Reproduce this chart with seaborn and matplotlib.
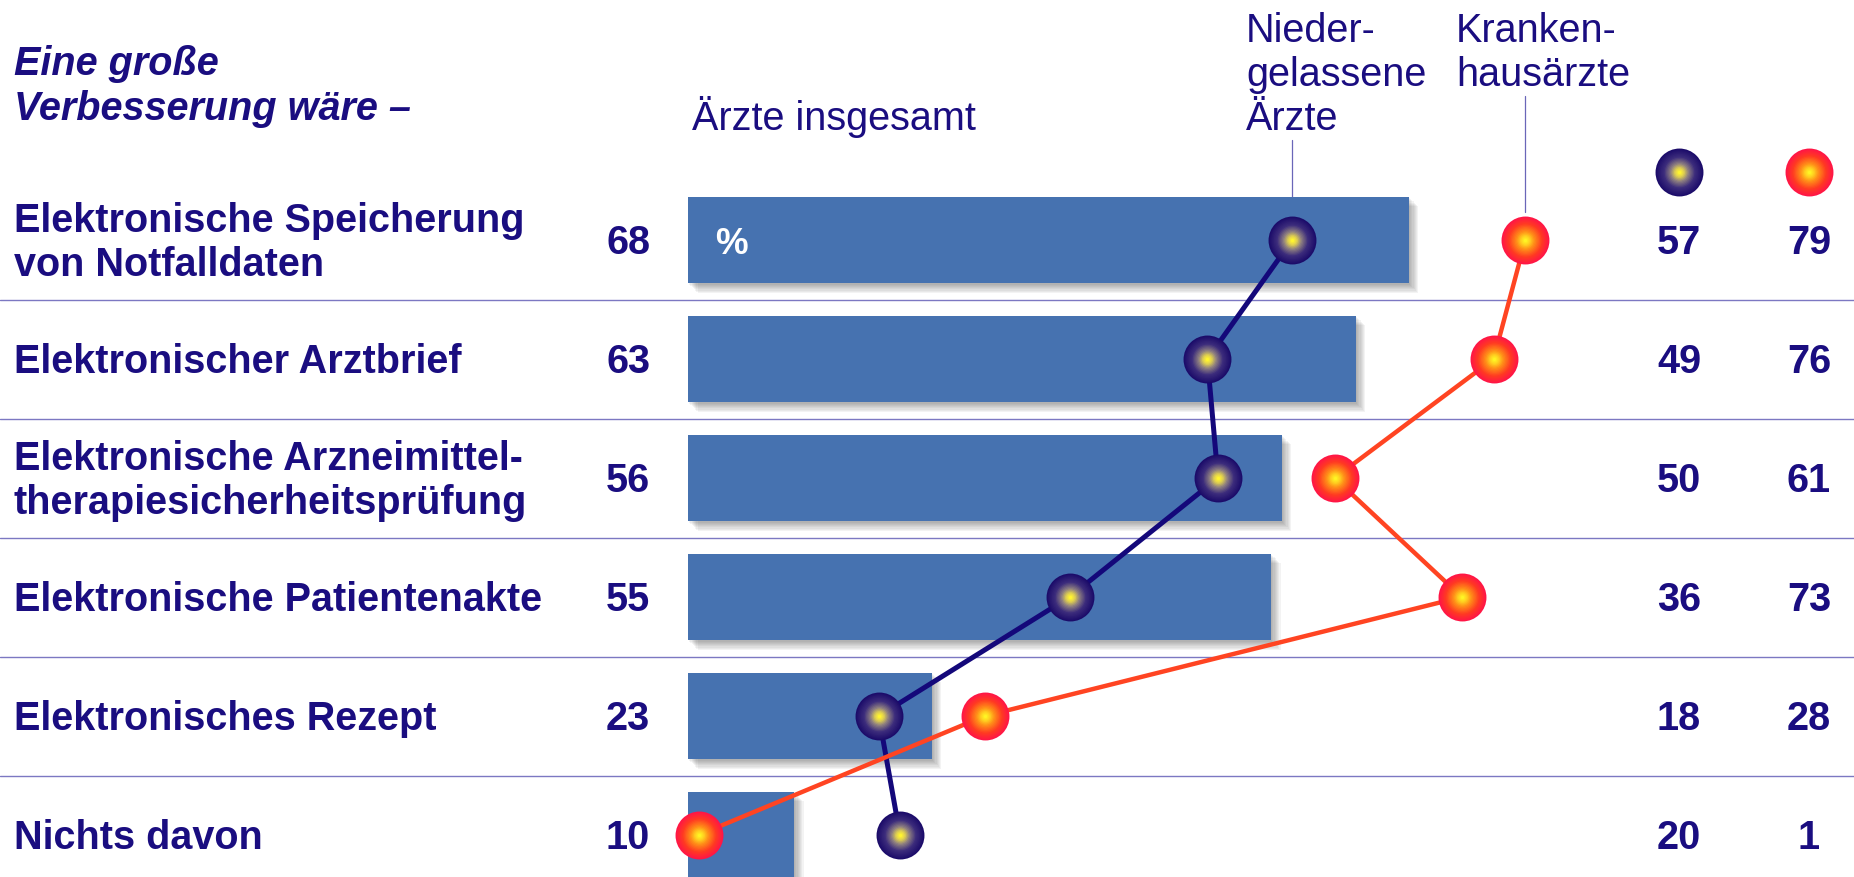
import numpy as np
import pandas as pd
import matplotlib
matplotlib.use("Agg")
import matplotlib.pyplot as plt
import seaborn as sns
from matplotlib.colors import LinearSegmentedColormap

# ---------------- data ----------------
categories = [
    "Elektronische Speicherung\nvon Notfalldaten",
    "Elektronischer Arztbrief",
    "Elektronische Arzneimittel-\ntherapiesicherheitsprüfung",
    "Elektronische Patientenakte",
    "Elektronisches Rezept",
    "Nichts davon",
]
aerzte_insgesamt = [68, 63, 56, 55, 23, 10]
niedergelassene = [57, 49, 50, 36, 18, 20]
krankenhaus = [79, 76, 61, 73, 28, 1]

title_lines = ["Eine große", "Verbesserung wäre –"]
label_total = "Ärzte insgesamt"
label_nieder = ["Nieder-", "gelassene", "Ärzte"]
label_kranken = ["Kranken-", "hausärzte"]

# ---------------- style ----------------
sns.set_theme(style="white")
plt.rcParams["font.family"] = ["Liberation Sans", "DejaVu Sans"]

NAVY_TXT = "#1a0d80"
BAR = "#4672b0"
NAVY_LINE = "#14087a"
RED_LINE = "#ff4422"
SEP = "#7c78c2"

W, H = 1854, 877
fig = plt.figure(figsize=(W / 100, H / 100), dpi=100)
ax = fig.add_axes([0, 0, 1, 1])

# pixel geometry of the reference
X0, PXU = 688, 10.6       # x pixel of 0 % and pixels per %
Y0, ROW = 240, 119        # y pixel of first row and row pitch

def fx(px):  # figure fraction from pixel
    return px / W

def fy(py):
    return 1 - py / H

df = pd.DataFrame({"cat": categories, "total": aerzte_insgesamt,
                   "nieder": niedergelassene, "kranken": krankenhaus})
ypos = np.arange(len(categories))

# separators
for i in range(len(categories) - 1):
    ax.axhline(i + 0.5, color=SEP, lw=1.0, zorder=1)

# bar shadows
for k in range(1, 9):
    ox = k * 1.2 / PXU
    oy = k * 1.2 / ROW
    ax.barh(ypos + oy, df["total"], left=ox, height=0.73, color="#404040",
            alpha=0.06, linewidth=0, zorder=2)

# bars
sns.barplot(data=df, y="cat", x="total", orient="h", color=BAR, width=0.73,
            saturation=1, ax=ax, zorder=3, linewidth=0)
ax.set_xlim(-X0 / PXU, (W - X0) / PXU)
ax.set_ylim((H - Y0) / ROW, -Y0 / ROW)

# lines
ax.plot(df["nieder"], ypos, color=NAVY_LINE, lw=3.6, zorder=4, solid_capstyle="round")
ax.plot(df["kranken"], ypos, color=RED_LINE, lw=3.2, zorder=4, solid_capstyle="round")

navy_cmap = LinearSegmentedColormap.from_list(
    "navyball", [(0, "#1c0c6a"), (0.35, "#3c2c7c"), (0.65, "#8f8080"), (0.85, "#e0d050"), (1, "#fff530")])
red_cmap = LinearSegmentedColormap.from_list(
    "redball", [(0, "#ff1646"), (0.3, "#ff3a22"), (0.65, "#ff9018"), (0.85, "#ffd020"), (1, "#fff424")])

def balls(ax, xs, ys, cmap, size=1190, z=5, transform=None):
    n = 18
    kw = {} if transform is None else {"transform": transform}
    for k in range(n):
        f = k / (n - 1)
        r = 1 - 0.93 * f
        ax.scatter(xs, ys, s=size * r * r, color=cmap(f), linewidths=0,
                   zorder=z + k * 0.01, **kw)

balls(ax, df["nieder"], ypos, navy_cmap)
balls(ax, df["kranken"], ypos, red_cmap)

# legend balls (top right)
balls(ax, [fx(1679)], [fy(172)], navy_cmap, transform=fig.transFigure, z=6)
balls(ax, [fx(1809)], [fy(172)], red_cmap, transform=fig.transFigure, z=6)

# leader lines
ax.plot([fx(1292)] * 2, [fy(140), fy(212)], color="#6a66b8", lw=0.9,
        transform=fig.transFigure, zorder=2)
ax.plot([fx(1525)] * 2, [fy(96), fy(212)], color="#6a66b8", lw=0.9,
        transform=fig.transFigure, zorder=2)

ax.set_axis_off()

# texts
FS = 28.5
CAP = 14  # half cap height in px
for i, cat in enumerate(categories):
    yc = Y0 + ROW * i
    lines = cat.split("\n")
    if len(lines) == 1:
        bases = [yc + CAP]
    else:
        bases = [yc - 8.5, yc + 36.5]
    for ln, b in zip(lines, bases):
        fig.text(fx(14), fy(b), ln, ha="left", va="baseline", fontsize=FS,
                 fontweight="bold", color=NAVY_TXT)
    fig.text(fx(650), fy(yc + CAP), str(aerzte_insgesamt[i]), ha="right", va="baseline",
             fontsize=FS, fontweight="bold", color=NAVY_TXT)
    fig.text(fx(1679), fy(yc + CAP), str(niedergelassene[i]), ha="center", va="baseline",
             fontsize=FS, fontweight="bold", color=NAVY_TXT)
    fig.text(fx(1809), fy(yc + CAP), str(krankenhaus[i]), ha="center", va="baseline",
             fontsize=FS, fontweight="bold", color=NAVY_TXT)

fig.text(fx(715), fy(Y0 + CAP), "%", ha="left", va="baseline", fontsize=FS - 2,
         fontweight="bold", color="white", zorder=10)

for ln, b in zip(title_lines, [75, 120]):
    fig.text(fx(14), fy(b), ln, ha="left", va="baseline", fontsize=FS,
             fontweight="bold", fontstyle="italic", color=NAVY_TXT)
fig.text(fx(692), fy(130), label_total, ha="left", va="baseline", fontsize=FS,
         color=NAVY_TXT)
for ln, b in zip(label_nieder, [42, 86, 130]):
    fig.text(fx(1246), fy(b), ln, ha="left", va="baseline", fontsize=FS,
             color=NAVY_TXT)
for ln, b in zip(label_kranken, [42, 86]):
    fig.text(fx(1456), fy(b), ln, ha="left", va="baseline", fontsize=FS,
             color=NAVY_TXT)

fig.savefig("out.png", dpi=100, facecolor="white")
